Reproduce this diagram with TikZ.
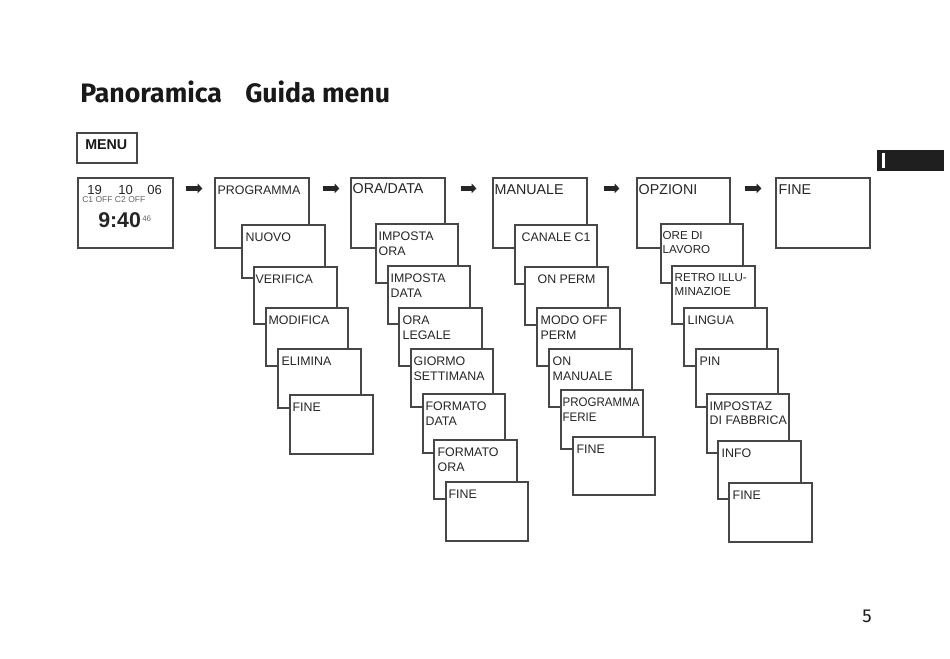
\documentclass[tikz,border=0pt]{standalone}
\usepackage{fontspec}
\setmainfont{Liberation Sans}
\newfontfamily\titlefont{Fira Sans}
\newfontfamily\condfont{Liberation Sans}[FakeStretch=0.93]
\usetikzlibrary{arrows.meta,calc,fit}
\tikzset{
  mbox/.style={draw=black!72, fill=white, line width=0.9pt, inner sep=0pt},
  mtext/.style={anchor=north west, inner sep=0pt, align=left, text=black!85,
    font=\fontsize{9.3}{11.5}\selectfont},
  toptext/.style={yshift=0.5pt, font=\fontsize{10.7}{13}\selectfont},
  smalltext/.style={font=\fontsize{8.7}{10}\selectfont},
  bigarrow/.style={line width=3.8pt, draw=black!85, -{Triangle[length=3.5pt,width=6.8pt]}},
  disptext/.style={anchor=base west, inner sep=0pt, text=black!85},
  titletext/.style={anchor=base west, inner sep=0pt, text=black!90,
    font=\titlefont\bfseries\fontsize{20}{24}\selectfont},
}
% #1 text style, #2 name, #3 x1, #4 y1, #5 x2, #6 y2, #7 dx, #8 text
\newcommand{\menubox}[8][]{%
  \node[mbox, fit={(#3,#4) (#5,#6)}] (#2) {};
  \node[mtext,#1] (#2t) at ($(#2.north west)+(#7,8)$) {#8};
}
\begin{document}
\begin{tikzpicture}[x=0.75pt,y=-0.75pt]
\fill[white] (0,0) rectangle (950,659);
\useasboundingbox (0,0) rectangle (950,659);

% title
\node[titletext] (t1) at (80,103) {Panoramica};
\node[titletext] (t2) at (245,103) {Guida menu};

% MENU key
\node[mbox, fit={(77,133) (137,163)}] (menu) {};
\node[anchor=base west, inner sep=0pt, text=black!90,
  font=\bfseries\fontsize{10.7}{12}\selectfont] (menut) at (85,150) {MENU};

% thumb tab
\fill[black!88] (877,150) rectangle (944,171);
\fill[white] (882,153) rectangle (885,168);

% page number
\node[anchor=base west, inner sep=0pt, text=black!90,
  font=\titlefont\fontsize{14}{16}\selectfont] (page) at (862,622) {5};

% display
\node[mbox, fit={(78,178) (173,248)}] (disp) {};
\node[disptext, font=\fontsize{9.8}{10}\selectfont] (d1) at (87,195) {19};
\node[disptext, font=\fontsize{9.8}{10}\selectfont] (d2) at (118,195) {10};
\node[disptext, font=\fontsize{9.8}{10}\selectfont] (d3) at (147,195) {06};
\node[disptext, text=black!60, font=\fontsize{6.4}{7}\selectfont] (d4) at (82,202.5) {C1 OFF C2 OFF};
\node[disptext, font=\bfseries\fontsize{16}{18}\selectfont] (d5) at (98,228) {9:40};
\node[disptext, text=black!60, font=\fontsize{6}{7}\selectfont] (d6) at (142,222) {46};

% PROGRAMMA column
\menubox{prog}{215}{178}{309}{248}{3}{PROGRAMMA}
\menubox{p1}{242}{225}{325}{278}{4}{NUOVO}
\menubox{p2}{254}{267}{337}{324}{2}{VERIFICA}
\menubox{p3}{266}{308}{348}{366}{3}{MODIFICA}
\menubox{p4}{278}{349}{361}{408}{4}{ELIMINA}
\menubox{p5}{290}{395}{373}{454}{3}{FINE}

% ORA/DATA column
\menubox[toptext,yshift=1.5pt]{ora}{351}{178}{445}{248}{2}{ORA/DATA}
\menubox{o1}{376}{224}{458}{283}{3}{IMPOSTA\\ORA}
\menubox{o2}{388}{266}{470}{324}{3}{IMPOSTA\\DATA}
\menubox{o3}{399}{308}{482}{366}{4}{ORA\\LEGALE}
\menubox{o4}{411}{349}{493}{407}{3}{GIORMO\\SETTIMANA}
\menubox{o5}{423}{394}{505}{453}{3}{FORMATO\\DATA}
\menubox{o6}{434}{440}{517}{499}{4}{FORMATO\\ORA}
\menubox{o7}{446}{482}{528}{541}{3}{FINE}

% MANUALE column
\menubox[toptext]{man}{493}{178}{587}{248}{2}{MANUALE}
\menubox{m1}{515}{225}{597}{284}{7}{CANALE C1}
\menubox{m2}{525}{267}{608}{325}{13}{ON PERM}
\menubox{m3}{537}{308}{620}{366}{4}{MODO OFF\\PERM}
\menubox{m4}{549}{349}{632}{407}{4}{ON\\MANUALE}
\menubox[font=\condfont\fontsize{9.3}{11.5}\selectfont]{m5}{561}{390}{643}{449}{2}{PROGRAMMA\\FERIE}
\menubox{m6}{573}{437}{655}{495}{4}{FINE}

% OPZIONI column
\menubox[toptext]{opz}{637}{178}{730}{248}{2}{OPZIONI}
\menubox[smalltext]{z1}{661}{224}{743}{283}{2}{ORE DI\\LAVORO}
\menubox[smalltext]{z2}{672}{266}{755}{324}{3}{RETRO ILLU-\\MINAZIOE}
\menubox{z3}{684}{308}{767}{366}{4}{LINGUA}
\menubox{z4}{696}{349}{778}{407}{4}{PIN}
\menubox[font=\fontsize{9.3}{10.7}\selectfont]{z5}{707}{394}{789}{453}{3}{IMPOSTAZ\\DI FABBRICA}
\menubox{z6}{718}{441}{801}{499}{4}{INFO}
\menubox{z7}{729}{483}{812}{542}{4}{FINE}

% FINE
\menubox[toptext]{fine}{776}{178}{870}{248}{3}{FINE}

% arrows
\draw[bigarrow] ($(disp.north east)+(12,11)$) -- ($(prog.north west)+(-12,11)$);
\draw[bigarrow] ($(prog.north east)+(13,11)$) -- ($(ora.north west)+(-11,11)$);
\draw[bigarrow] ($(ora.north east)+(15,11)$) -- ($(man.north west)+(-16,11)$);
\draw[bigarrow] ($(man.north east)+(16,11)$) -- ($(opz.north west)+(-17,11)$);
\draw[bigarrow] ($(opz.north east)+(14,11)$) -- ($(fine.north west)+(-14,11)$);
\end{tikzpicture}
\end{document}
